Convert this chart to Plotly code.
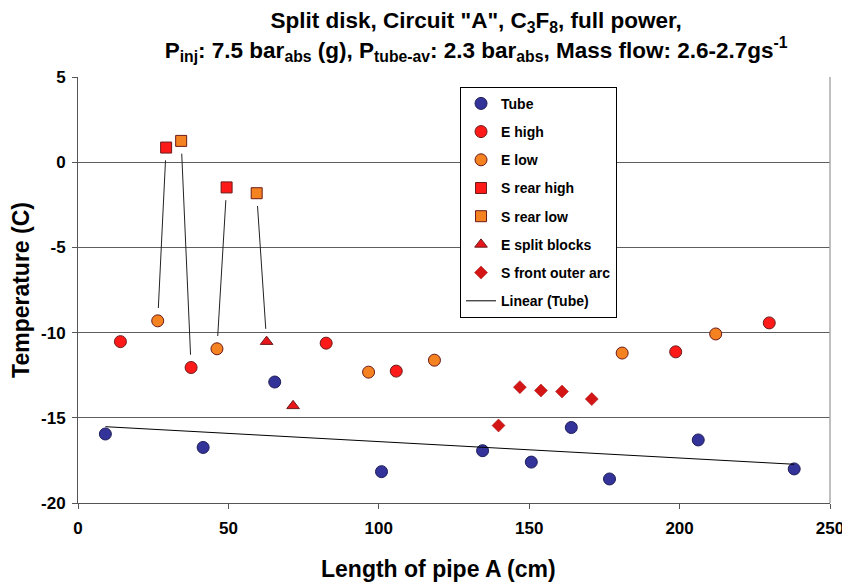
import numpy as np
import plotly.graph_objects as go

# ---- data ----
tube_x = [9.1, 41.6, 65.4, 100.9, 134.5, 150.7, 164.0, 176.7, 206.2, 238.1]
tube_y = [-15.95, -16.74, -12.9, -18.16, -16.93, -17.6, -15.57, -18.59, -16.3, -18.0]

e_high_x = [14.1, 37.6, 82.5, 105.8, 198.7, 229.8]
e_high_y = [-10.53, -12.05, -10.62, -12.26, -11.13, -9.43]

e_low_x = [26.5, 46.2, 96.6, 118.5, 180.9, 212.0]
e_low_y = [-9.31, -10.95, -12.32, -11.62, -11.2, -10.08]

s_rear_high_x = [29.3, 49.4]
s_rear_high_y = [0.86, -1.48]

s_rear_low_x = [34.3, 59.4]
s_rear_low_y = [1.25, -1.82]

e_split_x = [62.7, 71.5]
e_split_y = [-10.53, -14.3]

s_front_x = [139.8, 146.9, 153.9, 160.9, 170.8]
s_front_y = [-15.45, -13.2, -13.4, -13.46, -13.9]

x_ticks = [0, 50, 100, 150, 200, 250]
y_ticks = [5, 0, -5, -10, -15, -20]

BLUE = "#333399"
RED = "#FF1A1A"
ORANGE = "#F58220"
DARK = "#6B1A1A"

fig = go.Figure()

def scat(name, x, y, symbol, color, size, line_color, line_w=1):
    fig.add_trace(go.Scatter(
        x=x, y=y, mode="markers", name=name, legendgroup=name,
        marker=dict(symbol=symbol, color=color, size=size,
                    line=dict(color=line_color, width=line_w)),
    ))

scat("Tube", tube_x, tube_y, "circle", BLUE, 12, "#1E1E5A")
scat("E high", e_high_x, e_high_y, "circle", RED, 12, DARK)
scat("E low", e_low_x, e_low_y, "circle", ORANGE, 12, DARK)
scat("S rear high", s_rear_high_x, s_rear_high_y, "square", RED, 11, DARK)
scat("S rear low", s_rear_low_x, s_rear_low_y, "square", ORANGE, 11, DARK)
scat("E split blocks", e_split_x, e_split_y, "triangle-up", "#E8161B", 11, DARK)
scat("S front outer arc", s_front_x, s_front_y, "diamond", "#D41515", 10, "#A01010", 0.5)

# linear trendline of Tube
coef = np.polyfit(tube_x, tube_y, 1)
tx = np.array([min(tube_x), max(tube_x)])
fig.add_trace(go.Scatter(
    x=tx, y=np.polyval(coef, tx), mode="lines", name="Linear (Tube)",
    legendgroup="Linear (Tube)", line=dict(color="black", width=1),
))

# leader lines between sensor pairs (computed from data)
pairs = [
    ((s_rear_high_x[0], s_rear_high_y[0]), (e_low_x[0], e_low_y[0])),
    ((s_rear_low_x[0], s_rear_low_y[0]), (e_high_x[1], e_high_y[1])),
    ((s_rear_high_x[1], s_rear_high_y[1]), (e_low_x[1], e_low_y[1])),
    ((s_rear_low_x[1], s_rear_low_y[1]), (e_split_x[0], e_split_y[0])),
]
gap = 0.75
for (x0, y0), (x1, y1) in pairs:
    L = y0 - y1
    t0 = gap / L
    t1 = 1 - gap / L
    fig.add_shape(type="line", xref="x", yref="y",
                  x0=x0 + (x1 - x0) * t0, y0=y0 + (y1 - y0) * t0,
                  x1=x0 + (x1 - x0) * t1, y1=y0 + (y1 - y0) * t1,
                  line=dict(color="#222222", width=1))

FONT = "Liberation Sans, Arial, sans-serif"

fig.update_layout(
    width=842, height=575,
    margin=dict(l=70, r=20, t=69, b=80, autoexpand=False),
    paper_bgcolor="white", plot_bgcolor="white",
    font=dict(family=FONT, color="black", size=14, weight="bold"),
    title=dict(
        text='Split disk, Circuit "A", C<sub>3</sub>F<sub>8</sub>, full power,<br>'
             'P<sub>inj</sub>: 7.5 bar<sub>abs</sub> (g), P<sub>tube-av</sub>: 2.3 bar<sub>abs</sub>, '
             'Mass flow: 2.6-2.7gs<sup>-1</sup>',
        x=0.556, xanchor="center", y=0.9645, yanchor="middle",
        font=dict(family=FONT, size=22.5, weight="bold"),
    ),
    xaxis=dict(
        range=[0, 250], tickvals=x_ticks, ticktext=[str(v) for v in x_ticks],
        showgrid=False, zeroline=False, showline=True, linecolor="#555555", linewidth=1,
        ticks="outside", ticklen=5, tickcolor="#555555",
        tickfont=dict(size=17, weight="bold"), ticklabelstandoff=5,
        automargin=False,
    ),
    yaxis=dict(
        range=[-20, 5], tickvals=y_ticks, ticktext=[str(v) for v in y_ticks],
        showgrid=True, gridcolor="#5E5E5E", gridwidth=1,
        zeroline=False, showline=True, linecolor="#555555", linewidth=1,
        ticks="outside", ticklen=5, tickcolor="#555555",
        tickfont=dict(size=17, weight="bold"), ticklabelstandoff=3,
        title=dict(text="Temperature (C)", font=dict(size=23, weight="bold"), standoff=8),
        automargin=False,
    ),
    legend=dict(
        x=0.508, y=0.977, xanchor="left", yanchor="top",
        bgcolor="white", bordercolor="black", borderwidth=1,
        font=dict(size=14, weight="bold"),
        tracegroupgap=7, traceorder="grouped",
    ),
    showlegend=True,
)

# x-axis title (placed as annotation to match the reference position)
fig.add_annotation(
    text="Length of pipe A (cm)", xref="paper", yref="paper",
    x=0.480, y=-0.155, xanchor="center", yanchor="middle", showarrow=False,
    font=dict(family=FONT, size=23, weight="bold", color="black"),
)

# right border of plot area
fig.add_shape(type="line", xref="paper", yref="paper", x0=1, x1=1, y0=0, y1=1,
              line=dict(color="#AAAAAA", width=1.5))

fig.write_html("out.html")
